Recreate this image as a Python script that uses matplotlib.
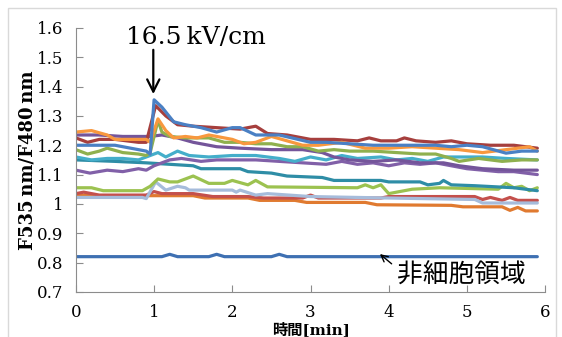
import matplotlib
matplotlib.use("Agg")
import matplotlib.pyplot as plt
from matplotlib.patches import Rectangle
from matplotlib.ticker import FuncFormatter

plt.rcParams['font.family'] = ['DejaVu Serif', 'Noto Sans CJK JP']

# ---- data (time [min], F535/F480 ratio) ----
blue_t = [0, 0.3, 0.5, 0.7, 0.9, 0.95, 1.0, 1.1, 1.25, 1.4, 1.6, 1.8, 2.0, 2.1, 2.3, 2.6, 3.0, 3.2, 3.5, 3.8, 4.0, 4.3, 4.6, 4.8, 5.0, 5.2, 5.5, 5.7, 5.9]
blue_v = [1.20, 1.20, 1.20, 1.19, 1.18, 1.17, 1.355, 1.33, 1.28, 1.27, 1.26, 1.245, 1.26, 1.26, 1.235, 1.235, 1.21, 1.21, 1.205, 1.20, 1.20, 1.20, 1.20, 1.195, 1.20, 1.195, 1.173, 1.18, 1.18]

dred_t = [0, 0.15, 0.3, 0.5, 0.8, 0.9, 1.02, 1.15, 1.3, 1.5, 1.8, 2.1, 2.3, 2.45, 2.7, 3.0, 3.3, 3.6, 3.75, 3.9, 4.1, 4.2, 4.35, 4.6, 4.8, 5.0, 5.3, 5.6, 5.9]
dred_v = [1.225, 1.21, 1.22, 1.22, 1.21, 1.21, 1.335, 1.30, 1.27, 1.265, 1.26, 1.255, 1.265, 1.24, 1.235, 1.22, 1.22, 1.215, 1.225, 1.215, 1.215, 1.225, 1.215, 1.21, 1.215, 1.205, 1.20, 1.20, 1.19]

orange_t = [0, 0.2, 0.4, 0.5, 0.9, 0.95, 1.05, 1.15, 1.25, 1.4, 1.55, 1.7, 2.0, 2.15, 2.3, 2.5, 2.7, 2.9, 3.1, 3.4, 3.7, 4.0, 4.3, 4.6, 4.9, 5.2, 5.5, 5.8, 5.9]
orange_v = [1.245, 1.25, 1.235, 1.22, 1.22, 1.21, 1.29, 1.25, 1.225, 1.23, 1.225, 1.235, 1.22, 1.205, 1.21, 1.23, 1.215, 1.20, 1.20, 1.21, 1.19, 1.19, 1.195, 1.19, 1.185, 1.175, 1.185, 1.195, 1.18]

green_t = [0, 0.15, 0.3, 0.4, 0.6, 0.8, 0.9, 0.95, 1.05, 1.1, 1.2, 1.4, 1.7, 1.9, 2.1, 2.3, 2.5, 2.7, 2.9, 3.1, 3.3, 3.5, 3.8, 4.1, 4.4, 4.6, 4.8, 4.9, 5.15, 5.45, 5.7, 5.9]
green_v = [1.185, 1.17, 1.18, 1.19, 1.175, 1.17, 1.165, 1.175, 1.285, 1.245, 1.23, 1.225, 1.225, 1.21, 1.21, 1.205, 1.205, 1.195, 1.195, 1.18, 1.185, 1.18, 1.18, 1.175, 1.17, 1.17, 1.155, 1.145, 1.155, 1.145, 1.15, 1.15]

purple_t = [0, 0.3, 0.6, 0.95, 1.1, 1.3, 1.5, 1.8, 2.1, 2.5, 2.9, 3.15, 3.3, 3.5, 3.8, 4.1, 4.4, 4.7, 4.9, 5.2, 5.6, 5.9]
purple_v = [1.235, 1.235, 1.23, 1.23, 1.235, 1.225, 1.21, 1.195, 1.19, 1.185, 1.185, 1.175, 1.16, 1.15, 1.145, 1.15, 1.14, 1.14, 1.13, 1.12, 1.115, 1.115]

purple2_t = [0, 0.18, 0.4, 0.6, 0.8, 0.9, 1.0, 1.2, 1.35, 1.6, 1.8, 2.0, 2.3, 2.6, 2.9, 3.2, 3.4, 3.6, 3.8, 4.0, 4.2, 4.4, 4.6, 4.8, 5.0, 5.2, 5.4, 5.6, 5.9]
purple2_v = [1.115, 1.105, 1.115, 1.11, 1.12, 1.115, 1.13, 1.15, 1.155, 1.145, 1.15, 1.15, 1.15, 1.145, 1.14, 1.135, 1.145, 1.135, 1.14, 1.13, 1.14, 1.135, 1.14, 1.13, 1.12, 1.115, 1.11, 1.11, 1.10]

aqua_t = [0, 0.2, 0.4, 0.6, 0.8, 0.9, 1.05, 1.15, 1.3, 1.45, 1.7, 2.0, 2.3, 2.6, 2.8, 3.0, 3.2, 3.4, 3.6, 3.9, 4.1, 4.3, 4.5, 4.7, 4.9, 5.2, 5.5, 5.9]
aqua_v = [1.16, 1.15, 1.155, 1.155, 1.15, 1.16, 1.175, 1.16, 1.18, 1.165, 1.16, 1.165, 1.165, 1.155, 1.145, 1.16, 1.15, 1.165, 1.155, 1.16, 1.15, 1.155, 1.145, 1.16, 1.16, 1.16, 1.155, 1.15]

teal_t = [0, 0.5, 0.9, 1.2, 1.5, 1.6, 2.1, 2.2, 2.5, 2.7, 3.15, 3.3, 3.9, 4.0, 4.4, 4.5, 4.65, 4.7, 4.8, 5.1, 5.6, 5.9]
teal_v = [1.15, 1.145, 1.14, 1.135, 1.13, 1.12, 1.12, 1.11, 1.105, 1.095, 1.09, 1.08, 1.08, 1.075, 1.075, 1.065, 1.07, 1.08, 1.065, 1.062, 1.055, 1.045]

lgreen_t = [0, 0.2, 0.35, 0.85, 0.95, 1.05, 1.2, 1.3, 1.5, 1.7, 1.9, 2.0, 2.2, 2.3, 2.45, 3.6, 3.7, 3.8, 3.9, 4.0, 4.3, 4.65, 5.4, 5.5, 5.6, 5.7, 5.8, 5.9]
lgreen_v = [1.055, 1.055, 1.045, 1.045, 1.06, 1.085, 1.075, 1.075, 1.095, 1.07, 1.07, 1.08, 1.065, 1.08, 1.058, 1.055, 1.065, 1.055, 1.065, 1.035, 1.05, 1.055, 1.05, 1.07, 1.055, 1.06, 1.045, 1.055]

red_t = [0, 0.1, 0.3, 0.9, 1.0, 1.1, 1.5, 1.75, 2.2, 2.4, 2.9, 3.0, 3.1, 3.9, 4.0, 5.1, 5.2, 5.3, 5.45, 5.55, 5.65, 5.75, 5.9]
red_v = [1.035, 1.04, 1.03, 1.03, 1.042, 1.035, 1.035, 1.025, 1.025, 1.02, 1.02, 1.03, 1.02, 1.02, 1.025, 1.025, 1.015, 1.022, 1.012, 1.022, 1.012, 1.012, 1.012]

dorange_t = [0, 0.3, 1.5, 1.65, 2.2, 2.35, 2.8, 2.95, 3.7, 3.85, 4.8, 4.95, 5.45, 5.55, 5.65, 5.75, 5.9]
dorange_v = [1.03, 1.028, 1.028, 1.02, 1.02, 1.012, 1.012, 1.005, 1.005, 0.997, 0.995, 0.99, 0.99, 0.978, 0.988, 0.976, 0.976]

lblue_t = [0, 0.85, 0.9, 1.02, 1.15, 1.3, 1.4, 1.45, 2.0, 2.05, 2.1, 2.3, 2.45, 3.0, 4.0, 5.1, 5.2, 5.9]
lblue_v = [1.022, 1.022, 1.018, 1.075, 1.047, 1.06, 1.055, 1.047, 1.047, 1.04, 1.047, 1.03, 1.035, 1.025, 1.02, 1.015, 1.003, 1.003]

bg_t = [0, 1.1, 1.2, 1.3, 1.7, 1.8, 1.9, 2.5, 2.6, 2.7, 5.9]
bg_v = [0.82, 0.82, 0.828, 0.82, 0.82, 0.828, 0.82, 0.82, 0.828, 0.82, 0.82]

series = [
    (dorange_t, dorange_v, '#E07A30'),
    (red_t, red_v, '#C4504C'),
    (lblue_t, lblue_v, '#A6BCDB'),
    (lgreen_t, lgreen_v, '#9CC250'),
    (teal_t, teal_v, '#2E8DA6'),
    (purple2_t, purple2_v, '#8160A8'),
    (aqua_t, aqua_v, '#44AECA'),
    (purple_t, purple_v, '#74559A'),
    (green_t, green_v, '#8FB04E'),
    (dred_t, dred_v, '#A63F3D'),
    (orange_t, orange_v, '#F8983E'),
    (blue_t, blue_v, '#4A80C4'),
    (bg_t, bg_v, '#3E70B2'),
]

fig = plt.figure(figsize=(5.62, 3.37), dpi=100)
fig.patches.append(Rectangle((0.014, -0.1), 0.975, 1.076, transform=fig.transFigure,
                             fill=False, edgecolor='#d9d9d9', linewidth=1))
ax = fig.add_axes([0.135, 0.134, 0.835, 0.783])

for t, v, c in series:
    ax.plot(t, v, color=c, linewidth=2.3, solid_joinstyle='round', solid_capstyle='round')

ax.set_xlim(0, 6)
ax.set_ylim(0.7, 1.6)
ax.set_xticks(range(7))
ax.set_yticks([0.7, 0.8, 0.9, 1.0, 1.1, 1.2, 1.3, 1.4, 1.5, 1.6])
ax.yaxis.set_major_formatter(FuncFormatter(lambda y, p: '%g' % round(y, 1)))
for s in ['top', 'right']:
    ax.spines[s].set_visible(False)
for s in ['left', 'bottom']:
    ax.spines[s].set_color('#8c8c8c')
ax.tick_params(direction='in', length=5, color='#8c8c8c', labelsize=12)
ax.tick_params(axis='y', pad=9)
ax.tick_params(axis='x', pad=9)

ax.set_ylabel('F535\u2009nm/F480\u2009nm', fontsize=13, fontweight='bold', labelpad=0)
ax.set_xlabel('時間[min]', fontsize=11, fontweight='bold', va='bottom')
ax.xaxis.set_label_coords(0.5, -0.17)

ax.text(1.54, 1.568, '16.5\u2009kV/cm', ha='center', va='center', fontsize=18)
ax.annotate('', xy=(0.99, 1.365), xytext=(0.99, 1.535),
            arrowprops=dict(arrowstyle='->', color='black', lw=1.6, mutation_scale=22))
ax.annotate('非細胞領域', xy=(3.86, 0.835), xytext=(4.1, 0.755),
            ha='left', va='center', fontsize=18.5, family=['Noto Sans CJK JP'],
            arrowprops=dict(arrowstyle='->', color='black', lw=1,
                            mutation_scale=12, relpos=(0.0, 0.8)))

fig.savefig('out.png', dpi=100)
